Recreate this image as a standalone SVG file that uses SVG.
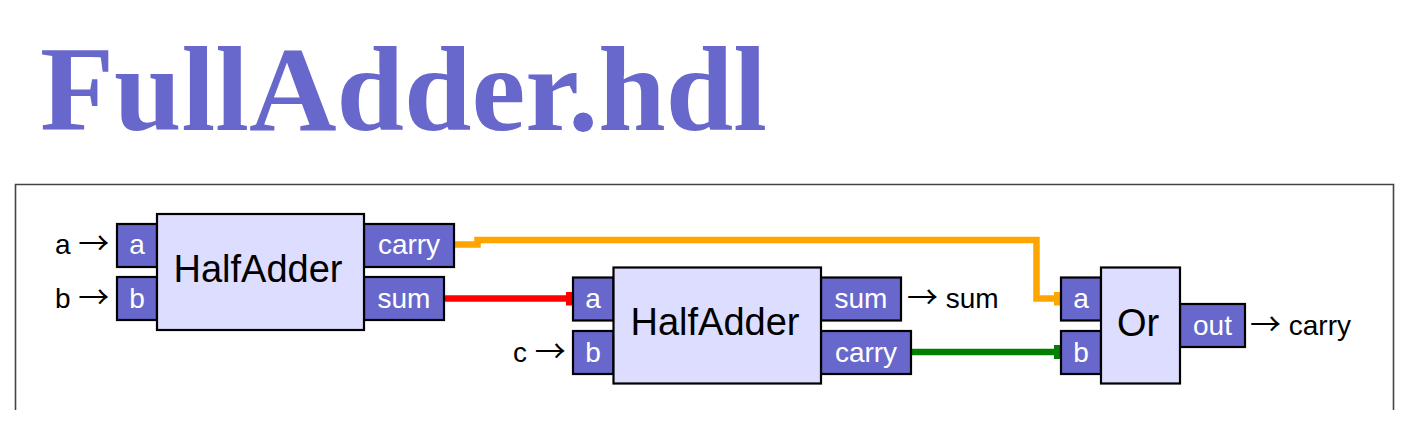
<svg xmlns="http://www.w3.org/2000/svg" width="1426" height="425" viewBox="0 0 1426 425">
<style>
.title{font-family:"Liberation Serif","Times New Roman",serif;font-weight:bold;font-size:120px;fill:#6868CC}
.port{fill:#6868CC;stroke:#000;stroke-width:2.2}
.main{fill:#DDDDFF;stroke:#000;stroke-width:2.2}
.pl{font-family:"Liberation Sans",Arial,sans-serif;font-size:28px;fill:#fff;text-anchor:middle}
.ml{font-family:"Liberation Sans",Arial,sans-serif;font-size:38px;fill:#000;text-anchor:middle}
.io{font-family:"Liberation Sans",Arial,sans-serif;font-size:28px;fill:#000}
.ar{font-family:"Noto Sans CJK JP","Noto Sans CJK SC",sans-serif;font-size:31px}
.w{fill:none;stroke-width:6.5;stroke-linejoin:miter}
</style>
<defs>
<marker id="so" markerUnits="userSpaceOnUse" markerWidth="7" markerHeight="14" refX="0" refY="7" orient="auto"><rect width="7" height="14" fill="#FFA500"/></marker>
<marker id="sr" markerUnits="userSpaceOnUse" markerWidth="7" markerHeight="14" refX="0" refY="7" orient="auto"><rect width="7" height="14" fill="#FF0000"/></marker>
<marker id="sg" markerUnits="userSpaceOnUse" markerWidth="7" markerHeight="14" refX="0" refY="7" orient="auto"><rect width="7" height="14" fill="#008000"/></marker>
</defs>
<rect width="1426" height="425" fill="#fff"/>
<text class="title" x="40" y="130" textLength="727" lengthAdjust="spacingAndGlyphs">FullAdder.hdl</text>
<path d="M15.5,410 V184.5 H1393.5 V410" fill="none" stroke="#444" stroke-width="1.6"/>

<g id="connectors">
<path class="w" stroke="#FFA500" d="M454,244.5 H477.5 V240 H1036.5 V298.5 H1054" marker-end="url(#so)"/>
<path class="w" stroke="#FF0000" d="M444,298.5 H566" marker-end="url(#sr)"/>
<path class="w" stroke="#008000" d="M911,352 H1054" marker-end="url(#sg)"/>
</g>

<g id="halfadder1">
<rect class="port" x="117" y="224" width="40" height="43"/>
<rect class="port" x="117" y="277" width="40" height="43"/>
<rect class="port" x="364" y="224" width="90" height="43"/>
<rect class="port" x="364" y="277" width="80" height="43"/>
<rect class="main" x="157" y="214" width="207" height="116"/>
<text class="pl" x="137" y="254">a</text>
<text class="pl" x="137" y="308">b</text>
<text class="pl" x="409" y="254">carry</text>
<text class="pl" x="404" y="308">sum</text>
<text class="ml" x="258" y="282">HalfAdder</text>
<text class="io" x="55" y="254">a <tspan class="ar">→</tspan></text>
<text class="io" x="55" y="308">b <tspan class="ar">→</tspan></text>
</g>

<g id="halfadder2">
<rect class="port" x="573" y="277.5" width="40.5" height="43"/>
<rect class="port" x="573" y="331" width="40.5" height="43"/>
<rect class="port" x="821" y="277.5" width="80" height="43"/>
<rect class="port" x="821" y="331" width="90" height="43"/>
<rect class="main" x="613.5" y="267.5" width="207.5" height="116"/>
<text class="pl" x="593" y="308">a</text>
<text class="pl" x="593" y="362">b</text>
<text class="pl" x="861" y="308">sum</text>
<text class="pl" x="866" y="362">carry</text>
<text class="ml" x="715" y="335">HalfAdder</text>
<text class="io" x="907" y="308"><tspan class="ar">→</tspan> sum</text>
<text class="io" x="513" y="362">c <tspan class="ar">→</tspan></text>
</g>

<g id="or">
<rect class="port" x="1061" y="277.5" width="40" height="43"/>
<rect class="port" x="1061" y="331" width="40" height="43"/>
<rect class="port" x="1180" y="304" width="65" height="43"/>
<rect class="main" x="1101" y="267.5" width="79" height="116"/>
<text class="pl" x="1081" y="308">a</text>
<text class="pl" x="1081" y="362">b</text>
<text class="pl" x="1212.5" y="335">out</text>
<text class="ml" x="1138" y="336">Or</text>
<text class="io" x="1250" y="335"><tspan class="ar">→</tspan> carry</text>
</g>
</svg>
